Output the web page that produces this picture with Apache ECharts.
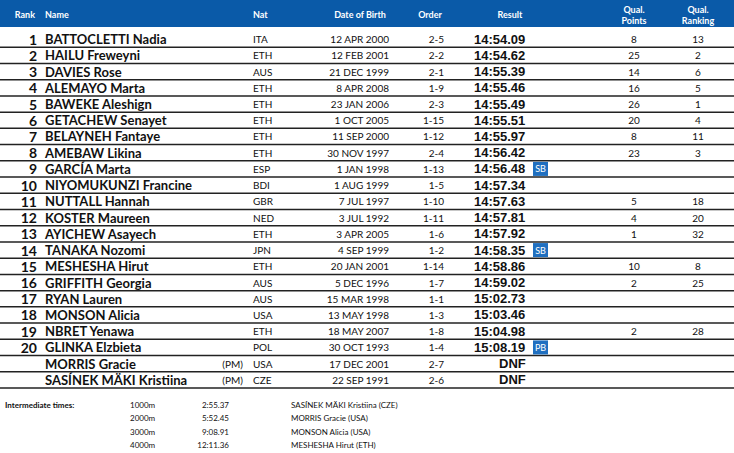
<!DOCTYPE html>
<html><head><meta charset="utf-8">
<script src="https://cdn.jsdelivr.net/npm/echarts@6/dist/echarts.min.js"></script>
<style>html,body{margin:0;padding:0;background:#fff}#c{width:734px;height:453px}</style>
</head><body><div id="c"></div>
<script>
// table data
var ranks = ['1','2','3','4','5','6','7','8','9','10','11','12','13','14','15','16','17','18','19','20','',''];
var names = ['BATTOCLETTI Nadia','HAILU Freweyni','DAVIES Rose','ALEMAYO Marta','BAWEKE Aleshign','GETACHEW Senayet','BELAYNEH Fantaye','AMEBAW Likina','GARCÍA Marta','NIYOMUKUNZI Francine','NUTTALL Hannah','KOSTER Maureen','AYICHEW Asayech','TANAKA Nozomi','MESHESHA Hirut','GRIFFITH Georgia','RYAN Lauren','MONSON Alicia','NBRET Yenawa','GLINKA Elzbieta','MORRIS Gracie','SASÍNEK MÄKI Kristiina'];
var notes = ['','','','','','','','','','','','','','','','','','','','','(PM)','(PM)'];
var nats = ['ITA','ETH','AUS','ETH','ETH','ETH','ETH','ETH','ESP','BDI','GBR','NED','ETH','JPN','ETH','AUS','AUS','USA','ETH','POL','USA','CZE'];
var births = ['12 APR 2000','12 FEB 2001','21 DEC 1999','8 APR 2008','23 JAN 2006','1 OCT 2005','11 SEP 2000','30 NOV 1997','1 JAN 1998','1 AUG 1999','7 JUL 1997','3 JUL 1992','3 APR 2005','4 SEP 1999','20 JAN 2001','5 DEC 1996','15 MAR 1998','13 MAY 1998','18 MAY 2007','30 OCT 1993','17 DEC 2001','22 SEP 1991'];
var orders = ['2-5','2-2','2-1','1-9','2-3','1-15','1-12','2-4','1-13','1-5','1-10','1-11','1-6','1-2','1-14','1-7','1-1','1-3','1-8','1-4','2-7','2-6'];
var results = ['14:54.09','14:54.62','14:55.39','14:55.46','14:55.49','14:55.51','14:55.97','14:56.42','14:56.48','14:57.34','14:57.63','14:57.81','14:57.92','14:58.35','14:58.86','14:59.02','15:02.73','15:03.46','15:04.98','15:08.19','DNF','DNF'];
var badges = ['','','','','','','','','SB','','','','','SB','','','','','','PB','',''];
var qualPoints = ['8','25','14','16','26','20','8','23','','','5','4','1','','10','2','','','2','','',''];
var qualRanking = ['13','2','6','5','1','4','11','3','','','18','20','32','','8','25','','','28','','',''];
var splitDist = ['1000m','2000m','3000m','4000m'];
var splitTimes = ['2:55.37','5:52.45','9:08.91','12:11.36'];
var splitLeaders = ['SASÍNEK MÄKI Kristiina (CZE)','MORRIS Gracie (USA)','MONSON Alicia (USA)','MESHESHA Hirut (ETH)'];

var F = 'Lato, "Open Sans", sans-serif';
var rowIdx = names.map(function (n, i) { return i; });

function txt(x, y, s, o) {
  return {type: 'text', x: x, y: y, style: Object.assign({text: s, fill: '#111', font: '10px ' + F, textVerticalAlign: 'middle'}, o || {})};
}

var chart = echarts.init(document.getElementById('c'), null, {renderer: 'svg'});
chart.setOption({
  animation: false,
  grid: [
    {left: 0, right: 0, top: 31, height: 357},
    {left: 0, right: 0, top: 398, height: 54}
  ],
  xAxis: [
    {type: 'value', min: 0, max: 734, show: false, gridIndex: 0},
    {type: 'value', min: 0, max: 734, show: false, gridIndex: 1}
  ],
  yAxis: [
    {type: 'category', data: rowIdx, inverse: true, show: false, gridIndex: 0},
    {type: 'category', data: splitDist, inverse: true, show: false, gridIndex: 1}
  ],
  graphic: [
    {type: 'rect', shape: {x: 0, y: 0, width: 734, height: 27}, style: {fill: '#0a5aa8'}},
    txt(35, 14, 'Rank', {fill: '#fff', font: 'bold 9px ' + F, align: 'right'}),
    txt(45, 14, 'Name', {fill: '#fff', font: 'bold 9px ' + F}),
    txt(253, 14, 'Nat', {fill: '#fff', font: 'bold 9px ' + F}),
    txt(360, 14, 'Date of Birth', {fill: '#fff', font: 'bold 9px ' + F, align: 'center'}),
    txt(430, 14, 'Order', {fill: '#fff', font: 'bold 9px ' + F, align: 'center'}),
    txt(510, 14, 'Result', {fill: '#fff', font: 'bold 9px ' + F, align: 'center'}),
    txt(634, 9, 'Qual.', {fill: '#fff', font: 'bold 9px ' + F, align: 'center'}),
    txt(634, 20, 'Points', {fill: '#fff', font: 'bold 9px ' + F, align: 'center'}),
    txt(698, 9, 'Qual.', {fill: '#fff', font: 'bold 9px ' + F, align: 'center'}),
    txt(698, 20, 'Ranking', {fill: '#fff', font: 'bold 9px ' + F, align: 'center'}),
    txt(5, 405, 'Intermediate times:', {font: 'bold 8px ' + F})
  ],
  series: [
    {
      type: 'custom', xAxisIndex: 0, yAxisIndex: 0,
      data: rowIdx.map(function (i) { return [0, i]; }),
      renderItem: function (params, api) {
        var i = api.value(1);
        var y = api.coord([0, i])[1];
        var h = api.size([0, 1])[1];
        var X = function (v) { return api.coord([v, i])[0]; };
        var kids = [
          {type: 'line', shape: {x1: 0, y1: y + h / 2, x2: 734, y2: y + h / 2}, style: {stroke: '#222', lineWidth: 1.5}},
          txt(X(37), y, ranks[i], {font: 'bold 14px ' + F, align: 'right'}),
          txt(X(45), y, names[i], {font: 'bold 13px ' + F}),
          txt(X(243), y, notes[i], {align: 'right'}),
          txt(X(253), y, nats[i]),
          txt(X(389), y, births[i], {align: 'right'}),
          txt(X(444), y, orders[i], {align: 'right'}),
          txt(results[i] === 'DNF' ? X(499) : X(474), y, results[i], {font: 'bold 13px "Liberation Sans", Arial, sans-serif'}),
          txt(X(634), y, qualPoints[i], {align: 'center'}),
          txt(X(698), y, qualRanking[i], {align: 'center'})
        ];
        if (badges[i]) {
          kids.push({type: 'rect', shape: {x: X(533), y: y - 7, width: 15, height: 14}, style: {fill: '#1f6fc0'}});
          kids.push(txt(X(540.5), y, badges[i], {fill: '#fff', font: '9px ' + F, align: 'center'}));
        }
        return {type: 'group', children: kids};
      }
    },
    {
      type: 'custom', xAxisIndex: 1, yAxisIndex: 1,
      data: splitDist.map(function (d, i) { return [0, i]; }),
      renderItem: function (params, api) {
        var i = api.value(1);
        var y = api.coord([0, i])[1];
        var X = function (v) { return api.coord([v, i])[0]; };
        return {type: 'group', children: [
          txt(X(130), y, splitDist[i], {font: '8px ' + F}),
          txt(X(229), y, splitTimes[i], {font: '8px ' + F, align: 'right'}),
          txt(X(291), y, splitLeaders[i], {font: '8px ' + F})
        ]};
      }
    }
  ]
});
</script></body></html>
